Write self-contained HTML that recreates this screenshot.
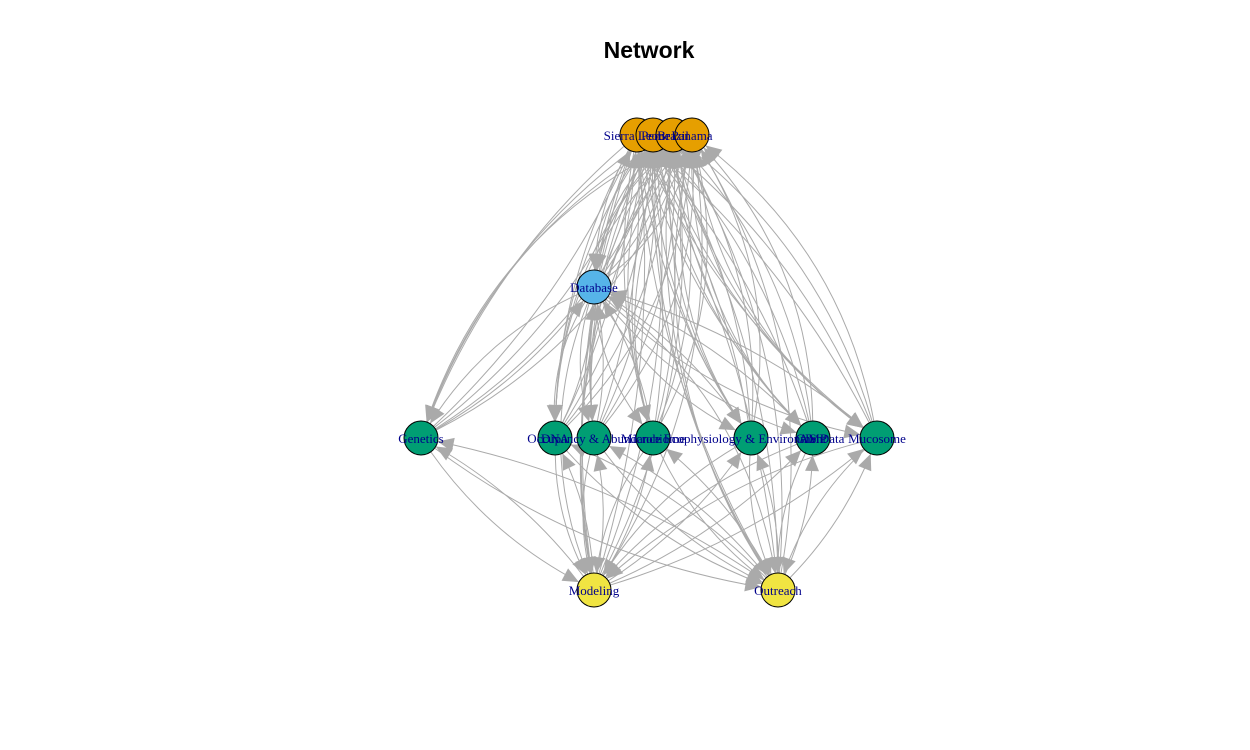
<!DOCTYPE html>
<html><head><meta charset="utf-8"><style>
html,body{margin:0;padding:0;background:#fff;width:1250px;height:750px;overflow:hidden}
</style></head><body>
<svg id="s" width="1250" height="750" xmlns="http://www.w3.org/2000/svg" font-family="Liberation Serif, serif">
<text x="649" y="58" text-anchor="middle" font-family="Liberation Sans, sans-serif" font-weight="bold" font-size="23">Network</text>
<g id="e" fill="none" stroke="#aaaaaa" stroke-width="1"></g>
<g id="a" fill="#aaaaaa"></g>
<g id="n" stroke="#000" stroke-width="1"></g>
<g id="l" fill="#00008B" font-size="13" text-anchor="middle"></g>
</svg>
<script>
(function(){
var N={
 SL:[637,135,'#E69F00'],PE:[653,135,'#E69F00'],BR:[673,135,'#E69F00'],PA:[692,135,'#E69F00'],
 DB:[594,287,'#56B4E9'],
 GE:[421,438,'#009E73'],DN:[555,438,'#009E73'],OC:[594,438,'#009E73'],MI:[653,438,'#009E73'],
 EC:[751,438,'#009E73'],AM:[813,438,'#009E73'],MU:[877,438,'#009E73'],
 MO:[594,590,'#F0E442'],OU:[778,590,'#F0E442']};
var ns='http://www.w3.org/2000/svg';
function el(p,t,at){var x=document.createElementNS(ns,t);for(var k in at)x.setAttribute(k,at[k]);document.getElementById(p).appendChild(x);return x;}
var R=17;
function edge(a,b,c){
 var A=N[a],B=N[b];var dx=B[0]-A[0],dy=B[1]-A[1];
 var mx=(A[0]+B[0])/2-dy*c,my=(A[1]+B[1])/2+dx*c;
 var tx=B[0]-mx,ty=B[1]-my,tl=Math.hypot(tx,ty)||1;tx/=tl;ty/=tl;
 var ex=B[0]-tx*R,ey=B[1]-ty*R;
 var sx0=A[0]-mx,sy0=A[1]-my,sl=Math.hypot(sx0,sy0)||1;
 var sx=A[0]-sx0/sl*R,sy=A[1]-sy0/sl*R;
 el('e','path',{d:'M'+sx+' '+sy+' Q'+mx+' '+my+' '+ex+' '+ey});
 var h=16,w=7,bx=ex-tx*h,by=ey-ty*h;
 el('a','polygon',{points:ex+','+ey+' '+(bx-ty*w)+','+(by+tx*w)+' '+(bx+ty*w)+','+(by-tx*w)});
}
var tops=['SL','PE','BR','PA'],mid=['GE','DN','OC','MI','EC','AM','MU'],bot=['MO','OU'];
tops.forEach(function(t,i){
 ['DB'].concat(mid,bot).forEach(function(m){edge(t,m,0.12+i*0.03);edge(m,t,0.10+i*0.03);});
});
mid.forEach(function(m){edge('DB',m,0.15);edge(m,'DB',0.1);
 bot.forEach(function(b){edge(m,b,0.12);edge(b,m,0.1);});});
edge('DB','MO',0.2);edge('DB','OU',-0.2);
for(var k in N){var p=N[k];el('n','circle',{cx:p[0],cy:p[1],r:R,fill:p[2]});}
var labs=[['Sierra Leone',637,140],['Peru',653,140],['Brazil',673,140],['Panama',692,140],['Database',594,292],
['Genetics',421,443],['DNA',555,443],['Occupancy & Abundance',594,443],['Microbiome',653,443],['Ecophysiology & Environment',745,443],
['AMP',813,443],['GIS Data',820,443],['Mucosome',877,443],['Modeling',594,595],['Outreach',778,595]];
labs.forEach(function(q){var t=el('l','text',{x:q[1],y:q[2]});t.textContent=q[0];});
})();
</script>
</body></html>
